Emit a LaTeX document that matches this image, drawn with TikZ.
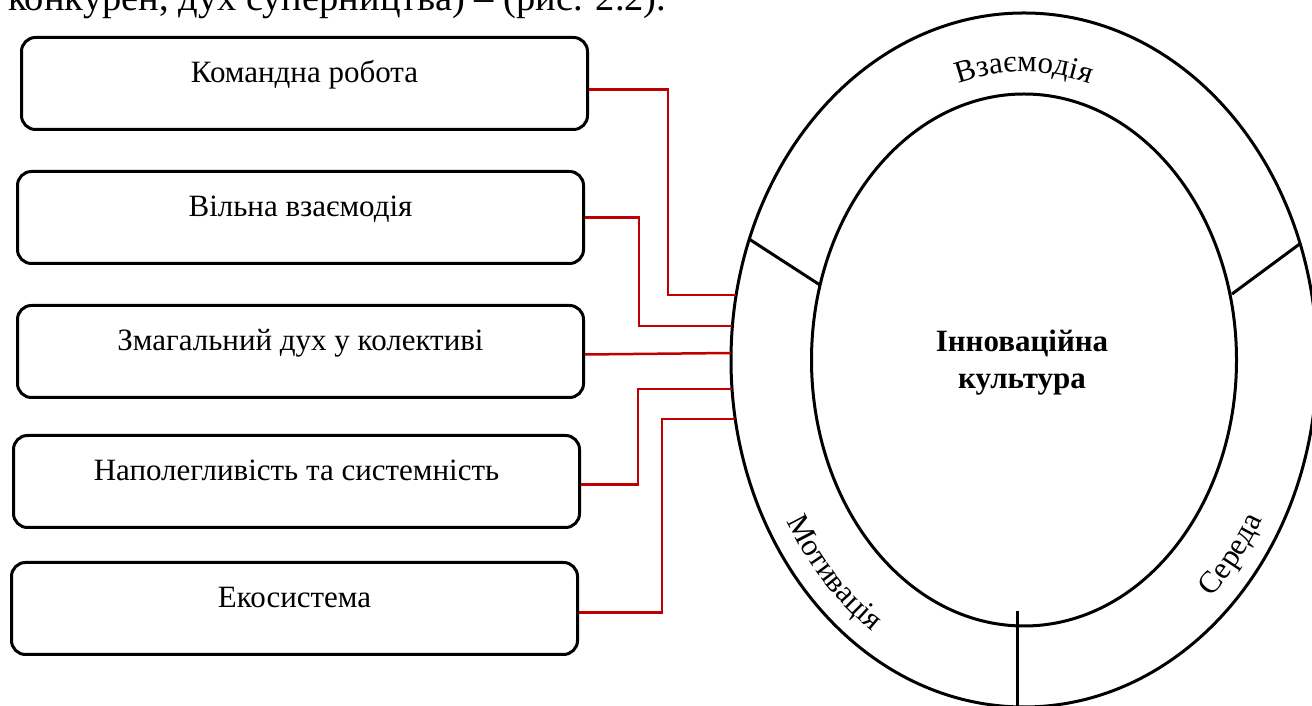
\documentclass[tikz,border=0pt]{standalone}
\usepackage{fontspec}
\setmainfont{Liberation Serif}
\usetikzlibrary{decorations.text}
\definecolor{connred}{RGB}{192,0,0}
\newcommand{\boxfont}{\fontsize{31}{37}\selectfont}
\newcommand{\ringfont}{\fontsize{31}{37}\selectfont}
\newcommand{\capfont}{\fontsize{38.5}{44}\selectfont}
\begin{document}
\begin{tikzpicture}[x=1pt,y=1pt,
  factor/.style={draw, line width=3pt, rounded corners=14pt, minimum width=566pt,
    inner xsep=0pt, inner ysep=0pt, text height=45pt, text depth=47pt,
    font=\boxfont, anchor=north west},
  conn/.style={draw=connred, line width=2.5pt},
  ring/.style={draw, line width=3pt},
  ringlabel/.style={decorate, decoration={text along path, text align=center, text={#1}}}]
\useasboundingbox (0,0) rectangle (1312,706);
\clip (0,0) rectangle (1312,706);

% caption line cut at top
\node[anchor=base west, font=\capfont, inner sep=0pt] (cap) at (8,695) {конкурен, дух суперництва) – (рис. 2.2).};

% factor boxes
\node[factor] (b1) at (20,670) {Командна робота};
\node[factor] (b2) at (16,536) {Вільна взаємодія};
\node[factor] (b3) at (16,402) {Змагальний дух у колективі};
\node[factor] (b4) at (12,272) {Наполегливість та системність};
\node[factor] (b5) at (10,145) {Екосистема};

% rings
\coordinate (C) at (1024,346);
\draw[ring] (C) ellipse[x radius=293pt, y radius=347pt];
\draw[ring] (C) ellipse[x radius=212.5pt, y radius=266pt];
\draw[ring] (749,467) -- (820,421);
\draw[ring] (1301,463) -- (1232,412);
\draw[ring] (1017,95) -- (1017,0);

\node[font=\bfseries\boxfont, align=center, inner sep=0pt] (core) at (1022,343) {Інноваційна\\культура};

% curved labels
\path[ringlabel={|\ringfont|Взаємодія}] (908,595.4) arc[start angle=120, end angle=60, x radius=232pt, y radius=288pt];
\path[ringlabel={|\ringfont|Мотивація}] (758.1,272.5) arc[start angle=193, end angle=255, x radius=272.9pt, y radius=326.75pt];
\path[ringlabel={|\ringfont|Середа}] (1117.3,39.0) arc[start angle=290, end angle=352, x radius=272.9pt, y radius=326.75pt];

% connector ends on outer ring
\coordinate (e1) at (736.2,411);
\coordinate (e2) at (732.4,380);
\coordinate (e3) at (731.0,353);
\coordinate (e4) at (732.0,317);
\coordinate (e5) at (735.3,287);

\draw[conn] ([yshift=-6pt]b1.east) -| (668,411) -- (e1);
\draw[conn] (b2.east) -| (639,380) -- (e2);
\draw[conn] ([yshift=-3pt]b3.east) -- (e3);
\draw[conn] ([yshift=-3pt]b4.east) -| (638,317) -- (e4);
\draw[conn] ([yshift=-4pt]b5.east) -| (662,287) -- (e5);
\end{tikzpicture}
\end{document}
